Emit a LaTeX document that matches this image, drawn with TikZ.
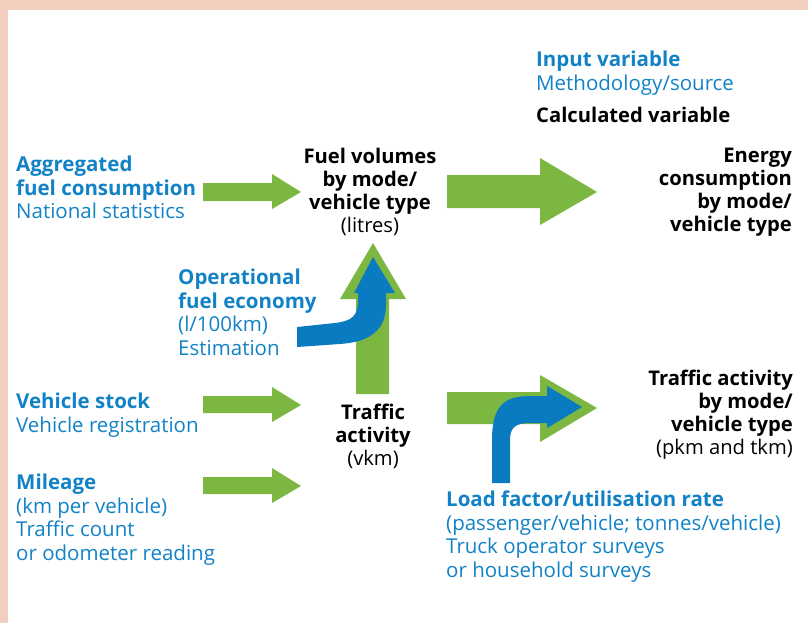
\documentclass[tikz,border=0pt]{standalone}
\usepackage{fontspec}
\setmainfont{Open Sans}
\definecolor{pinkedge}{HTML}{F3CFC0}
\definecolor{agreen}{HTML}{7CB742}
\definecolor{ablue}{HTML}{0A7BC1}
\definecolor{tblue}{HTML}{1282C6}
\tikzset{
  txt/.style={inner sep=0pt, font=\fontsize{20.5}{23.5}\selectfont, align=left},
  inputtxt/.style={txt, text=tblue},
  calctxt/.style={txt, text=black, font=\fontsize{20.2}{23}\selectfont\bfseries},
  garrow/.style={fill=agreen},
  barrow/.style={fill=ablue},
}
\begin{document}
\begin{tikzpicture}[x=1pt,y=-1pt]
\useasboundingbox (0,0) rectangle (808,623);
\fill[pinkedge] (0,0) rectangle (808,10);
\fill[pinkedge] (0,0) rectangle (8,623);

% small green arrows
\fill[garrow] (203,183) -- (272,183) -- (272,174) -- (301,192) -- (272,209) -- (272,201) -- (203,201) -- cycle;
\fill[garrow] (203,396) -- (272,396) -- (272,387) -- (301,405) -- (272,422) -- (272,413) -- (203,413) -- cycle;
\fill[garrow] (203,477) -- (272,477) -- (272,468) -- (301,486) -- (272,503) -- (272,494) -- (203,494) -- cycle;

% big green arrows
\fill[garrow] (447,175) -- (540,175) -- (540,158) -- (597,192) -- (540,225) -- (540,208) -- (447,208) -- cycle;
\fill[garrow] (447,392) -- (540,392) -- (540,375) -- (597,408) -- (540,442) -- (540,424) -- (447,424) -- cycle;
\fill[garrow] (356,394) -- (356,299) -- (340,299) -- (373,243) -- (406,299) -- (389,299) -- (389,394) -- cycle;

% blue arrows
\fill[barrow] (297,327) -- (335,323) .. controls (352,321) and (358,316) .. (358,300) -- (358,293) -- (354,293) -- (373,257) -- (395,293) -- (386,293) -- (386,305) .. controls (386,330) and (370,342) .. (340,344) -- (297,347) -- cycle;
\fill[barrow] (492,483) -- (492,440) .. controls (492,405) and (505,396) .. (530,396) -- (547,396) -- (547,386) -- (582,407) -- (547,428) -- (547,423) -- (530,423) .. controls (515,423) and (510,428) .. (510,440) -- (510,483) -- cycle;

% texts
\node[inputtxt, anchor=north west] (legin) at (536,51) {\textbf{Input variable}\\Methodology/source};
\node[calctxt, anchor=north west] (legcalc) at (536,107) {Calculated variable};
\node[inputtxt, anchor=north west] (agg) at (16,156) {\textbf{Aggregated}\\\textbf{fuel consumption}\\National statistics};
\node[calctxt, anchor=north, align=center] (fuel) at (370,148) {Fuel volumes\\by mode/\\vehicle type\\\mdseries(litres)};
\node[calctxt, anchor=north east, align=right] (energy) at (792,148) {Energy\\consumption\\by mode/\\vehicle type};
\node[inputtxt, anchor=north west] (op) at (178,269) {\textbf{Operational}\\\textbf{fuel economy}\\(l/100km)\\Estimation};
\node[inputtxt, anchor=north west] (stock) at (16,393) {\textbf{Vehicle stock}\\Vehicle registration};
\node[inputtxt, anchor=north west] (mile) at (16,474) {\textbf{Mileage}\\(km per vehicle)\\Traffic count\\or odometer reading};
\node[calctxt, anchor=north, align=center] (traffic) at (373,404) {Traffic\\activity\\\mdseries(vkm)};
\node[calctxt, anchor=north east, align=right] (traffic2) at (793,370) {Traffic activity\\by mode/\\vehicle type\\\mdseries(pkm and tkm)};
\node[inputtxt, anchor=north west] (load) at (446,491) {\textbf{Load factor/utilisation rate}\\(passenger/vehicle; tonnes/vehicle)\\Truck operator surveys\\or household surveys};
\end{tikzpicture}
\end{document}
